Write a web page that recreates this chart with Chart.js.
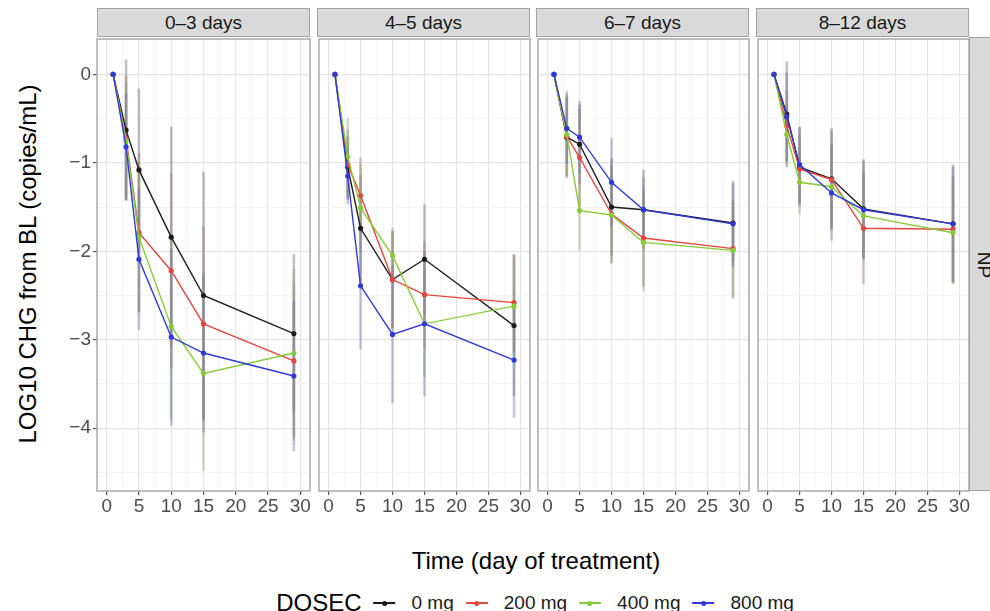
<!DOCTYPE html>
<html lang="en">
<head>
<meta charset="UTF-8">
<title>LOG10 change from baseline by dose</title>
<script src="https://cdn.jsdelivr.net/npm/chart.js"></script>
<style>
  body { margin: 0; background: #fff; font-family: "Liberation Sans", Arial, sans-serif; }
  #wrap { position: relative; width: 990px; height: 611px; overflow: hidden; }
  .strip { position: absolute; top: 8px; height: 29px; background: #d9d9d9; border: 1px solid #a3a3a3;
           box-sizing: border-box; color: #1a1a1a; font-size: 19px; line-height: 27px; text-align: center; }
  .side-strip { position: absolute; left: 969px; top: 37px; width: 30px; height: 454px; background: #d9d9d9;
                border: 1px solid #a3a3a3; box-sizing: border-box; }
  .side-strip span { position: absolute; left: 14px; top: 227px; transform: translate(-50%, -50%) rotate(90deg);
                     font-size: 19px; color: #1a1a1a; }
  canvas.panel { position: absolute; }
  .ytitle { position: absolute; left: 28px; top: 264px; transform: translate(-50%, -50%) rotate(-90deg);
            font-size: 24px; white-space: nowrap; color: #000; }
  .xtitle { position: absolute; left: 536px; top: 561px; transform: translate(-50%, -50%);
            font-size: 24px; white-space: nowrap; color: #000; }
  #legend { position: absolute; left: 535px; top: 603px; transform: translate(-50%, -50%);
            display: flex; align-items: center; white-space: nowrap; font-size: 19px; color: #1a1a1a; }
  #legend .ltitle { font-size: 24px; color: #000; }
  .key { position: relative; display: inline-block; width: 22px; height: 14px; margin: 0 16px 0 12px; }
  .key::before { content: ''; position: absolute; left: 0; right: 0; top: 6px; height: 1.5px; background: var(--c); }
  .key::after { content: ''; position: absolute; left: 8.5px; top: 4.5px; width: 5px; height: 5px;
                border-radius: 50%; background: var(--c); }
</style>
</head>
<body>
<div id="wrap">
  <div class="ytitle">LOG10 CHG from BL (copies/mL)</div>
  <div class="xtitle">Time (day of treatment)</div>
  <div class="side-strip"><span>NP</span></div>
  <div id="legend"><span class="ltitle">DOSEC</span></div>
</div>

<script>
  const days = [1, 3, 5, 10, 15, 29];
  const doses = ['0 mg', '200 mg', '400 mg', '800 mg'];
  const doseColors = ['#1c1c1c', '#e4453f', '#86cc3a', '#2f3bd6'];
  const facets = ['0\u20133 days', '4\u20135 days', '6\u20137 days', '8\u201312 days'];
  const xMajor = [0, 5, 10, 15, 20, 25, 30];
  const yMajor = [0, -1, -2, -3, -4];

  // mean LOG10 change, one row per dose (0, 200, 400, 800 mg)
  const mean03 = [
    [0, -0.63, -1.08, -1.84, -2.50, -2.93],
    [0, -0.72, -1.79, -2.22, -2.82, -3.24],
    [0, -0.75, -1.84, -2.85, -3.38, -3.15],
    [0, -0.82, -2.09, -2.97, -3.15, -3.41]
  ];
  const sd03 = [
    [0, 0.80, 0.92, 1.25, 1.40, 0.90],
    [0, 0.70, 0.90, 1.10, 1.10, 0.90],
    [0, 0.65, 0.85, 1.05, 1.10, 0.95],
    [0, 0.60, 0.80, 1.00, 0.90, 0.85]
  ];
  const mean45 = [
    [0, -1.05, -1.74, -2.32, -2.09, -2.84],
    [0, -1.02, -1.37, -2.32, -2.49, -2.58],
    [0, -0.93, -1.51, -2.05, -2.82, -2.62],
    [0, -1.15, -2.39, -2.94, -2.82, -3.23]
  ];
  const sd45 = [
    [0, 0.35, 0.60, 0.55, 0.62, 0.80],
    [0, 0.40, 0.43, 0.55, 0.60, 0.55],
    [0, 0.44, 0.50, 0.32, 0.60, 0.55],
    [0, 0.32, 0.72, 0.78, 0.82, 0.65]
  ];
  const mean67 = [
    [0, -0.71, -0.79, -1.50, -1.53, -1.68],
    [0, -0.70, -0.94, -1.58, -1.85, -1.97],
    [0, -0.68, -1.54, -1.59, -1.90, -1.99],
    [0, -0.61, -0.71, -1.22, -1.53, -1.69]
  ];
  const sd67 = [
    [0, 0.45, 0.45, 0.55, 0.45, 0.45],
    [0, 0.45, 0.55, 0.55, 0.55, 0.55],
    [0, 0.50, 0.45, 0.55, 0.55, 0.55],
    [0, 0.40, 0.41, 0.50, 0.36, 0.49]
  ];
  const mean812 = [
    [0, -0.45, -1.05, -1.18, -1.52, -1.69],
    [0, -0.58, -1.07, -1.19, -1.74, -1.75],
    [0, -0.68, -1.22, -1.27, -1.60, -1.79],
    [0, -0.48, -1.02, -1.34, -1.53, -1.69]
  ];
  const sd812 = [
    [0, 0.60, 0.45, 0.57, 0.56, 0.67],
    [0, 0.40, 0.40, 0.55, 0.63, 0.60],
    [0, 0.34, 0.36, 0.50, 0.50, 0.58],
    [0, 0.50, 0.43, 0.54, 0.55, 0.65]
  ];

  const panelMeans = [mean03, mean45, mean67, mean812];
  const panelSds = [sd03, sd45, sd67, sd812];

  const X_MIN = -1.5, X_MAX = 31.5, Y_MIN = -4.71, Y_MAX = 0.40;
  const panelLeft = [97, 317, 536, 756];
  const panelWidth = 213;
  const PANEL_TOP = 37, PANEL_BOTTOM = 491, X_AXIS_H = 30;

  Chart.defaults.font.family = '"Liberation Sans", Arial, sans-serif';

  // major ticks plus half-way minor gridlines inside the range
  function withMinor(major, lo, hi) {
    const sorted = [...major].sort((a, b) => a - b);
    const step = (sorted[1] - sorted[0]) / 2;
    const out = [];
    for (let v = sorted[0] - step; v <= sorted[sorted.length - 1] + step + 1e-9; v += step) {
      if (v >= lo && v <= hi) out.push(+v.toFixed(3));
    }
    return out;
  }
  const xGrid = withMinor(xMajor, X_MIN, X_MAX);
  const yGrid = withMinor(yMajor, Y_MIN, Y_MAX);

  const isMajor = (list, v) => list.includes(v);
  const minus = v => v < 0 ? '\u2212' + Math.abs(v) : String(v);

  // error bars are mostly grey with a hint of the dose colour
  function barColor(hex) {
    const n = parseInt(hex.slice(1), 16);
    const mix = c => Math.round(c * 0.35 + 140 * 0.65);
    return `rgba(${mix(n >> 16)}, ${mix((n >> 8) & 255)}, ${mix(n & 255)}, 0.4)`;
  }

  // vertical mean +/- SD bars behind the lines
  const errorBars = {
    id: 'errorBars',
    beforeDatasetsDraw(chart) {
      const { ctx, chartArea: a, scales: { x, y } } = chart;
      ctx.save();
      ctx.beginPath();
      ctx.rect(a.left, a.top, a.right - a.left, a.bottom - a.top);
      ctx.clip();
      ctx.lineWidth = 2.6;
      chart.data.datasets.forEach(ds => {
        ctx.strokeStyle = barColor(ds.borderColor);
        ds.data.forEach((p, j) => {
          const s = ds.sd[j];
          if (!s) return;
          const px = x.getPixelForValue(p.x);
          ctx.beginPath();
          ctx.moveTo(px, y.getPixelForValue(p.y + s));
          ctx.lineTo(px, y.getPixelForValue(p.y - s));
          ctx.stroke();
        });
      });
      ctx.restore();
    }
  };

  const frame = {
    id: 'frame',
    afterDraw(chart) {
      const { ctx, chartArea: a } = chart;
      ctx.save();
      ctx.strokeStyle = '#a3a3a3';
      ctx.lineWidth = 1.4;
      ctx.strokeRect(a.left, a.top, a.right - a.left, a.bottom - a.top);
      ctx.restore();
    }
  };

  function makePanel(i) {
    const wrap = document.getElementById('wrap');
    const first = i === 0;
    const canvasLeft = first ? 40 : panelLeft[i] - 2;
    const width = panelLeft[i] + panelWidth + 6 - canvasLeft;
    const height = PANEL_BOTTOM - (PANEL_TOP - 2) + X_AXIS_H;

    const strip = document.createElement('div');
    strip.className = 'strip';
    strip.style.left = panelLeft[i] + 'px';
    strip.style.width = panelWidth + 'px';
    strip.textContent = facets[i];
    wrap.appendChild(strip);

    const canvas = document.createElement('canvas');
    canvas.className = 'panel';
    canvas.width = width;
    canvas.height = height;
    canvas.style.left = canvasLeft + 'px';
    canvas.style.top = (PANEL_TOP - 2) + 'px';
    wrap.appendChild(canvas);

    const means = panelMeans[i], sds = panelSds[i];

    new Chart(canvas, {
      type: 'line',
      data: {
        datasets: doses.map((d, k) => ({
          label: d,
          data: days.map((x, j) => ({ x: x, y: means[k][j] })),
          sd: sds[k],
          order: doses.length - 1 - k,
          borderColor: doseColors[k],
          backgroundColor: doseColors[k],
          borderWidth: 1.4,
          pointRadius: 2.6,
          pointBorderWidth: 0,
          tension: 0
        }))
      },
      options: {
        responsive: false,
        animation: false,
        events: [],
        layout: { padding: { left: first ? 0 : 2, top: 2, right: 6, bottom: 0 } },
        plugins: { legend: { display: false }, tooltip: { enabled: false } },
        scales: {
          x: {
            type: 'linear',
            min: X_MIN,
            max: X_MAX,
            afterBuildTicks: s => { s.ticks = xGrid.map(v => ({ value: v })); },
            afterFit: s => { s.height = X_AXIS_H; s.paddingLeft = 0; s.paddingRight = 0; },
            border: { display: false },
            grid: {
              color: c => c.tick && isMajor(xMajor, c.tick.value) ? '#e4e4e4' : '#f2f2f2',
              lineWidth: c => c.tick && isMajor(xMajor, c.tick.value) ? 1.2 : 0.8,
              tickLength: 4,
              tickColor: c => c.tick && isMajor(xMajor, c.tick.value) ? '#555' : 'rgba(0,0,0,0)'
            },
            ticks: {
              autoSkip: false,
              maxRotation: 0,
              minRotation: 0,
              padding: 0,
              color: '#4d4d4d',
              font: { size: 19 },
              callback: v => isMajor(xMajor, v) ? String(v) : ''
            }
          },
          y: {
            min: Y_MIN,
            max: Y_MAX,
            afterBuildTicks: s => { s.ticks = yGrid.map(v => ({ value: v })); },
            afterFit: s => { s.width = first ? panelLeft[0] - canvasLeft : 0; s.paddingTop = 0; s.paddingBottom = 0; },
            border: { display: false },
            grid: {
              color: c => c.tick && isMajor(yMajor, c.tick.value) ? '#e4e4e4' : '#f2f2f2',
              lineWidth: c => c.tick && isMajor(yMajor, c.tick.value) ? 1.2 : 0.8,
              drawTicks: first,
              tickLength: 4,
              tickColor: c => c.tick && isMajor(yMajor, c.tick.value) ? '#555' : 'rgba(0,0,0,0)'
            },
            ticks: {
              display: first,
              padding: 2,
              color: '#4d4d4d',
              font: { size: 19 },
              callback: v => isMajor(yMajor, v) ? minus(v) : ''
            }
          }
        }
      },
      plugins: [errorBars, frame]
    });
  }

  facets.forEach((f, i) => makePanel(i));

  // legend row: DOSEC, then a line-and-point key per dose
  const legend = document.getElementById('legend');
  doses.forEach((d, k) => {
    const key = document.createElement('span');
    key.className = 'key';
    key.style.setProperty('--c', doseColors[k]);
    legend.appendChild(key);
    const lab = document.createElement('span');
    lab.textContent = d;
    legend.appendChild(lab);
  });
</script>
</body>
</html>
